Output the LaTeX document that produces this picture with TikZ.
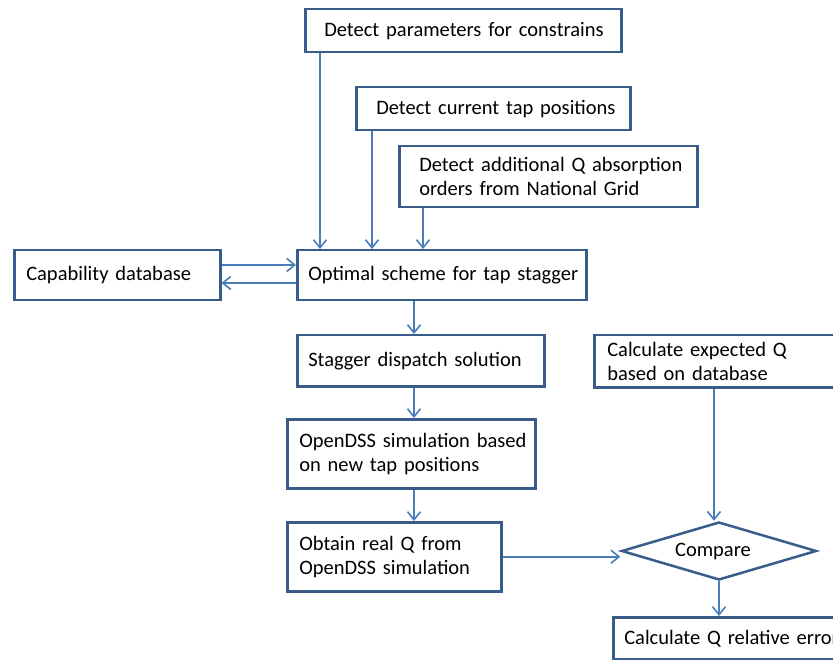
\documentclass[tikz,border=0pt]{standalone}
\usepackage{fontspec}
\setmainfont{Carlito}
\usetikzlibrary{arrows.meta,shapes.geometric,calc}
\definecolor{boxc}{HTML}{385D8A}
\definecolor{arrc}{HTML}{4A7EBB}
\begin{document}
\begin{tikzpicture}[x=1pt,y=-1pt,
  font=\fontsize{20.5}{24}\selectfont,
  flowbox/.style={draw=boxc, line width=2.5pt, fill=white, anchor=north west,
    align=left, inner ysep=0pt},
  arr/.style={draw=arrc, line width=1.6pt, -{Straight Barb[length=8pt,width=13pt]}}]
\useasboundingbox (0,0) rectangle (833,660);
\clip (0,0) rectangle (833,660);

\node[flowbox, text width=278pt, inner xsep=19pt, minimum height=43pt] (b1) at (304,8)
  {\mbox{Detect parameters for constrains}};
\node[flowbox, text width=234pt, inner xsep=20pt, minimum height=43pt] (b2) at (355,86)
  {\mbox{Detect current tap positions}};
\node[flowbox, text width=258pt, inner xsep=20pt, minimum height=61pt] (b3) at (398,145)
  {\mbox{Detect additional Q absorption}\\\mbox{orders from National Grid}};
\node[flowbox, text width=182pt, inner xsep=12pt, minimum height=50pt] (cap) at (13,249)
  {\mbox{Capability database}};
\node[flowbox, text width=267pt, inner xsep=11pt, minimum height=50pt] (opt) at (296,249)
  {\mbox{Optimal scheme for tap stagger}};
\node[flowbox, text width=225pt, inner xsep=11pt, minimum height=51pt] (stag) at (296,334)
  {\mbox{Stagger dispatch solution}};
\node[flowbox, text width=224pt, inner xsep=12pt, minimum height=69pt] (ods) at (286,418)
  {\mbox{OpenDSS simulation based}\\\mbox{on new tap positions}};
\node[flowbox, text width=190pt, inner xsep=12pt, minimum height=69pt] (obt) at (286,521)
  {\mbox{Obtain real Q from}\\\mbox{OpenDSS simulation}};
\node[flowbox, text width=234pt, inner xsep=13pt, minimum height=52pt] (ce) at (593,334)
  {\mbox{Calculate expected Q}\\\mbox{based on database}};
\node[flowbox, text width=228pt, inner xsep=11pt, minimum height=42pt] (qe) at (612,616)
  {\mbox{Calculate Q relative error}};
\node[diamond, draw=boxc, line width=2.5pt, fill=white, minimum width=195pt,
  minimum height=58pt, aspect=3.36, inner sep=0pt] (cmp) at (719,551) {\hspace*{-12pt}Compare};

\draw[arr] ($(b1.south west)+(16,0)$) coordinate (t1) -- (t1 |- opt.north);
\draw[arr] ($(b2.south west)+(17,0)$) coordinate (t2) -- (t2 |- opt.north);
\draw[arr] ($(b3.south west)+(25,0)$) coordinate (t3) -- (t3 |- opt.north);
\draw[arr] ($(cap.north east)+(0,16)$) coordinate (c1) -- (c1 -| opt.west);
\draw[arr] ($(opt.north west)+(0,34)$) coordinate (c2) -- (c2 -| cap.east);
\draw[arr] ($(opt.south west)+(118,0)$) coordinate (o1) -- (o1 |- stag.north);
\draw[arr] ($(stag.south west)+(118,0)$) coordinate (o2) -- (o2 |- ods.north);
\draw[arr] ($(ods.south west)+(128,0)$) coordinate (o3) -- (o3 |- obt.north);
\draw[arr] (obt.east) -- (obt.east -| cmp.west);
\draw[arr] ($(ce.south west)+(121,0)$) coordinate (e1) -- (e1 |- cmp.north);
\draw[arr] (cmp.south) -- (cmp.south |- qe.north);
\end{tikzpicture}
\end{document}
